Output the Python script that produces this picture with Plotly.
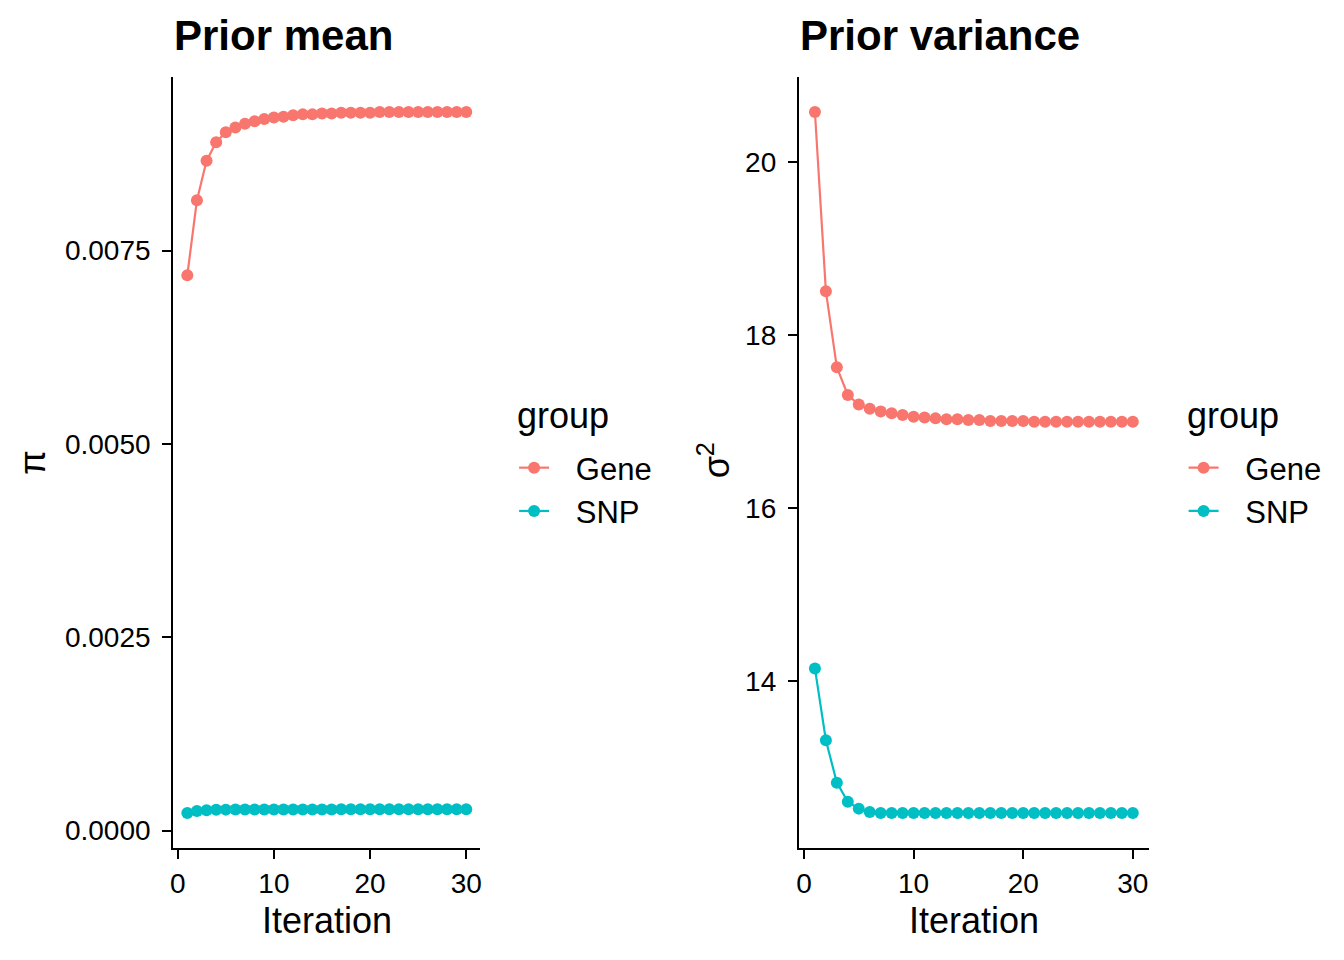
import plotly.graph_objects as go

iteration = list(range(1, 31))
pi_gene = [0.00718, 0.00815, 0.00866, 0.00890, 0.00903, 0.00909, 0.00914, 0.00917,
           0.00920, 0.00922, 0.00923, 0.00925, 0.00926, 0.00926, 0.00927, 0.00927,
           0.00928, 0.00928, 0.00928, 0.00928, 0.00929, 0.00929, 0.00929, 0.00929,
           0.00929, 0.00929, 0.00929, 0.00929, 0.00929, 0.00929]
pi_snp = [0.000229, 0.000254, 0.000265, 0.000270, 0.000272, 0.000273, 0.000274, 0.000275,
          0.000275, 0.000275, 0.000275, 0.000275, 0.000275, 0.000275, 0.000275, 0.000275,
          0.000276, 0.000276, 0.000276, 0.000276, 0.000276, 0.000276, 0.000276, 0.000276,
          0.000276, 0.000276, 0.000276, 0.000276, 0.000276, 0.000276]
sigma_gene = [20.58, 18.51, 17.63, 17.31, 17.20, 17.15, 17.12, 17.10, 17.08, 17.06,
              17.05, 17.04, 17.03, 17.03, 17.02, 17.02, 17.01, 17.01, 17.01, 17.01,
              17.00, 17.00, 17.00, 17.00, 17.00, 17.00, 17.00, 17.00, 17.00, 17.00]
sigma_snp = [14.15, 13.32, 12.83, 12.61, 12.53, 12.49, 12.48, 12.48, 12.48, 12.48,
             12.48, 12.48, 12.48, 12.48, 12.48, 12.48, 12.48, 12.48, 12.48, 12.48,
             12.48, 12.48, 12.48, 12.48, 12.48, 12.48, 12.48, 12.48, 12.48, 12.48]

groups = ["Gene", "SNP"]
colors = {"Gene": "#F8766D", "SNP": "#00BFC4"}

W, H = 1344, 960
FONT = "Liberation Sans, Arial, Helvetica, sans-serif"
GAP = "\u2002\u2009"  # visual gap between legend key and label

fig = go.Figure()

def add(x, y, name, xa, ya, legend, grp):
    fig.add_trace(go.Scatter(
        x=x, y=y, mode="lines+markers", name=GAP + name,
        line=dict(color=colors[name], width=2.2),
        marker=dict(color=colors[name], size=12),
        xaxis=xa, yaxis=ya, legend=legend, legendgroup=grp,
    ))

add(iteration, pi_gene, "Gene", "x", "y", "legend", "a1")
add(iteration, pi_snp, "SNP", "x", "y", "legend", "a2")
add(iteration, sigma_gene, "Gene", "x2", "y2", "legend2", "b1")
add(iteration, sigma_snp, "SNP", "x2", "y2", "legend2", "b2")

def px(x):
    return x / W

def py(y):
    return 1 - y / H

axis_common = dict(
    showline=True, linecolor="black", linewidth=2.4,
    ticks="outside", ticklen=9, tickwidth=2.2, tickcolor="black",
    showgrid=False, zeroline=False, mirror=False,
    tickfont=dict(family=FONT, size=28, color="black"),
)

lo, hi = 1 - 0.05 * 29, 30 + 0.05 * 29

def yrange(a, b):
    mn = min(min(a), min(b))
    mx = max(max(a), max(b))
    d = (mx - mn) * 0.05
    return [mn - d, mx + d]

leg_common = dict(
    xanchor="left", yanchor="top",
    font=dict(family=FONT, size=31), tracegroupgap=0, itemwidth=30,
    bgcolor="rgba(0,0,0,0)",
)

fig.update_layout(
    width=W, height=H,
    margin=dict(l=0, r=0, t=0, b=0),
    paper_bgcolor="white", plot_bgcolor="white",
    font=dict(family=FONT, color="black"),
    xaxis=dict(domain=[px(171), px(479)], anchor="y", range=[lo, hi],
               tickvals=[0, 10, 20, 30], **axis_common),
    yaxis=dict(domain=[py(848), py(77)], anchor="x", range=yrange(pi_gene, pi_snp),
               tickvals=[0.0, 0.0025, 0.005, 0.0075], ticklabelstandoff=6,
               ticktext=["0.0000", "0.0025", "0.0050", "0.0075"], **axis_common),
    xaxis2=dict(domain=[px(799), px(1150)], anchor="y2", range=[lo, hi],
                tickvals=[0, 10, 20, 30], **axis_common),
    yaxis2=dict(domain=[py(848), py(77)], anchor="x2", range=yrange(sigma_gene, sigma_snp),
                tickvals=[14, 16, 18, 20], ticklabelstandoff=6, **axis_common),
    legend=dict(x=px(513), y=py(441), **leg_common),
    legend2=dict(x=px(1185), y=py(441), **leg_common),
)

ann = []
def text(t, x, y, size, xanchor="left", angle=0):
    ann.append(dict(text=t, x=px(x), y=py(y), xref="paper", yref="paper",
                    xanchor=xanchor, yanchor="middle", showarrow=False, textangle=angle,
                    font=dict(family=FONT, size=size, color="black")))

text("<b>Prior mean</b>", 170, 36, 42)
text("<b>Prior variance</b>", 798, 36, 42)
text("Iteration", 325, 920, 36, "center")
text("Iteration", 975, 920, 36, "center")
text("π", 30, 462, 36, "center", -90)
text("σ<sup>2</sup>", 714, 460, 36, "center", -90)
text("group", 514, 415, 36)
text("group", 1186, 415, 36)
fig.update_layout(annotations=ann)

fig.write_html("out.html", config={"displayModeBar": False},
               post_script="document.body.style.margin='0';document.body.style.overflow='hidden';")
